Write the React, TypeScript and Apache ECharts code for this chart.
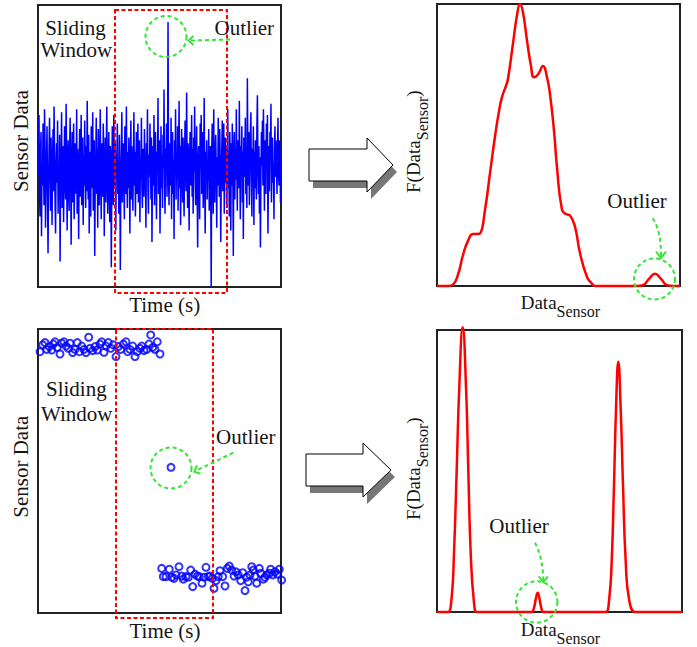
import React, { useEffect, useRef } from "react";
import * as echarts from "echarts";

// ---------- data ----------
// Top-left: raw sensor signal (arbitrary units, 0..100 scale)
const sensorSignal = [
  40, 52, 61, 33, 25, 47, 55, 18, 42, 36,
  58, 44, 29, 63, 50, 21, 38, 46, 57, 31,
  12, 35, 49, 60, 41, 27, 53, 39, 22, 45,
  56, 34, 64, 48, 30, 19, 43, 51, 37, 59,
  26, 42, 33, 54, 9, 40, 47, 62, 28, 36,
  50, 23, 44, 57, 38, 31, 65, 46, 20, 41,
  52, 35, 27, 48, 60, 43, 15, 39, 55, 30,
  46, 58, 24, 37, 51, 42, 33, 63, 26, 49,
  38, 17, 45, 56, 32, 44, 61, 29, 40, 53,
  22, 47, 36, 59, 41, 28, 50, 34, 66, 43,
  31, 54, 19, 39, 48, 25, 57, 42, 35, 62,
  27, 46, 52, 11, 38, 44, 60, 33, 49, 21,
  56, 40, 29, 47, 63, 36, 24, 51, 43, 32,
  58, 45, 18, 39, 53, 30, 48, 64, 37, 26,
  42, 55, 34, 23, 50, 46, 7, 38, 57, 41,
  29, 61, 44, 35, 52, 20, 47, 39, 58, 33,
  45, 26, 54, 41, 6, 36, 49, 62, 30, 43,
  51, 38, 24, 57, 46, 33, 64, 40, 28, 48,
  35, 53, 42, 19, 45, 59, 31, 50, 37, 27,
  44, 62, 36, 48, 25, 40, 55, 33, 47, 58,
  30, 41, 52, 23, 46, 38, 60, 35, 28, 49,
  43, 32, 56, 45, 37, 21, 51, 40, 63, 34,
  26, 47, 39, 58, 44, 31, 53, 16, 42, 50,
  36, 61, 29, 46, 55, 38, 24, 48, 41, 67,
  33, 45, 52, 19, 40, 57, 35, 47, 28, 54,
  42, 70, 37, 26, 49, 44, 58, 32, 46, 94,
  39, 29, 51, 43, 36, 60, 24, 47, 55, 33,
  45, 17, 52, 40, 63, 31, 48, 38, 57, 27,
  44, 66, 35, 50, 22, 41, 56, 46, 30, 53,
  37, 25, 48, 59, 42, 34, 69, 45, 28, 51,
  39, 20, 47, 55, 36, 43, 61, 32, 49, 26,
  53, 41, 64, 38, 29, 46, 57, 35, 14, 44,
  50, 37, 24, 58, 42, 61, 33, 47, 55, 28,
  43, 67, 36, 19, 48, 40, 52, 31, 45, 38,
  56, 27, 44, 50, 35, 0, 49, 58, 41, 26,
  63, 38, 30, 47, 54, 41, 21, 46, 36, 60,
  50, 32, 56, 44, 16, 39, 48, 59, 34, 45,
  58, 26, 41, 53, 37, 49, 28, 44, 63, 35,
  47, 25, 55, 40, 20, 51, 36, 58, 43, 11,
  46, 55, 31, 49, 38, 63, 42, 27, 52, 45,
  35, 66, 41, 24, 50, 44, 57, 30, 48, 17,
  53, 39, 46, 60, 33, 42, 28, 74, 47, 36,
  55, 29, 44, 53, 62, 38, 25, 49, 41, 57,
  22, 48, 35, 52, 40, 31, 57, 68, 44, 33,
  50, 26, 46, 14, 39, 55, 43, 59, 36, 63,
  47, 27, 52, 41, 33, 58, 45, 61, 19, 38,
  50, 34, 55, 46, 65, 30, 42, 53, 37, 44,
  24, 49, 57, 39, 52, 45, 33, 47, 60, 41,
  36, 52, 47, 30, 44,
];

// Top-right: estimated density of the top signal
const densityTopX = [
  0, 11, 16, 21, 26, 31, 36, 40, 43, 48, 53, 58, 62, 65, 69, 71, 76, 80, 83, 86,
  90, 94, 97, 101, 106, 110, 113, 117, 120, 125, 129, 133, 138, 143, 150, 155,
  158, 200, 206, 212, 218, 224, 230, 236, 243,
];
const densityTopY = [
  0, 0, 0.5, 4, 11, 16, 18.4, 18.4, 18.6, 27, 40, 53, 62, 67, 71, 73.5, 86, 96, 100, 97,
  87, 78, 74, 75, 78, 74, 68, 55, 42, 27, 25.5, 25, 21, 11.7, 3.2, 0.8,
  0, 0, 0.3, 2.5, 4.3, 2.5, 0.3, 0, 0,
];

// Bottom-left: step-like sensor readings
const upperTimes = [
  2, 4.7, 7, 8.7, 11.3, 13.7, 15.3, 17, 19.3, 22, 23.7, 26, 28, 30.3, 32, 34.7, 37,
  39.3, 41.3, 43.7, 46, 48, 50.7, 52, 54.7, 57, 59.3, 62, 63.7, 66, 68, 70.3, 72.7,
  75.3, 78, 80.3, 82.7, 85.3, 88, 89.7, 92, 94.7, 97, 99.3, 102, 103.7, 106, 108.7,
  111, 112.7, 114.7, 117, 119.3, 122,
];
const upperValues = [
  92.0, 94.4, 95.2, 92.8, 93.8, 92.6, 94.7, 95.5, 93.5, 91.2, 95.0, 95.5, 94.0, 93.2,
  95.0, 91.7, 92.8, 95.2, 92.0, 94.0, 92.8, 91.7, 97.1, 93.2, 92.4, 93.8, 92.6, 94.7,
  95.5, 91.8, 94.0, 95.2, 93.2, 94.4, 90.3, 93.8, 92.8, 94.7, 95.5, 92.0, 92.8, 94.0,
  90.3, 92.0, 93.2, 94.0, 92.4, 92.8, 94.7, 97.9, 93.5, 92.8, 95.5, 91.2,
];
const lowerTimes = [
  123.7, 125.3, 128, 131.3, 133.7, 136, 138, 141, 143.7, 145.3, 148, 150.3, 152.7,
  154.7, 157, 159.3, 161.3, 164, 166, 168, 170.3, 172, 174.3, 176, 178, 180.3, 182,
  184.7, 187, 189.3, 191.3, 193.7, 196, 198, 200.3, 202.7, 204.7, 207, 208.7, 210.3,
  212, 213.7, 215.3, 217, 218.7, 221.3, 222.7, 225.3, 227, 228.7, 231.3, 232.7,
  234.7, 237, 239.3, 241.3, 243.7,
];
const lowerValues = [
  15.7, 12.8, 12.8, 15.4, 12.6, 12.2, 13.4, 16.3, 13.0, 11.9, 12.8, 12.6, 15.1, 9.3,
  13.7, 13.0, 12.8, 10.5, 12.6, 16.1, 12.8, 13.0, 12.2, 8.7, 11.4, 12.8, 14.9, 12.8,
  9.5, 15.7, 16.5, 15.1, 13.0, 14.5, 13.4, 11.4, 14.2, 7.9, 12.6, 11.0, 13.4, 16.3,
  15.1, 13.0, 10.5, 15.7, 14.0, 11.9, 12.6, 13.4, 14.0, 15.4, 13.4, 14.5, 13.7, 15.4,
  11.6,
];
const outlierTimes = [133];
const outlierValues = [51.3];

// Bottom-right: estimated density of the bottom signal
const densityBottomX = [
  0, 9, 11.3, 14.7, 17, 19.7, 22.3, 25.7, 29, 31.3, 33.7, 37, 39.7, 42, 92, 94.7, 97,
  99, 100.7, 102.3, 104.3, 106.3, 109, 166, 169, 172.3, 174.7, 177, 179, 181.3,
  183.7, 186, 188.7, 192.3, 198, 201, 245,
];
const densityBottomY = [
  0, 0, 0, 5.4, 20.9, 50.4, 79.9, 101, 79.9, 50.4, 20.9, 3.2, 0, 0, 0, 0, 1.5,
  5, 6.8, 5, 1.5, 0, 0, 0, 0, 5, 18, 45, 72, 88.7,
  72, 45, 18, 4, 0, 0, 0,
];

// texts
const labelSensorData = "Sensor Data";
const labelTime = "Time (s)";
const labelOutlier = "Outlier";
const labelSliding = ["Sliding", "Window"];
const labelData = "Data";
const labelSub = "Sensor";
const labelF = "F(Data";

const FONT = "'Liberation Serif', 'Times New Roman', serif";
const TXT = "#151515";
const GREEN = "#33e633";
const RED = "#ff0000";
const BLUE = "#0000ff";

function measure(t: string, size: number): number {
  const ctx = document.createElement("canvas").getContext("2d");
  if (!ctx) return t.length * size * 0.5;
  ctx.font = `${size}px 'Liberation Serif'`;
  return ctx.measureText(t).width;
}

function text(t: string, x: number, y: number, size: number, align = "center", extra: any = {}) {
  return {
    type: "text",
    x,
    y,
    z: 120,
    ...extra,
    style: {
      text: t,
      fontSize: size,
      fontFamily: FONT,
      fill: TXT,
      textAlign: align,
      textVerticalAlign: "middle",
      align,
      verticalAlign: "middle",
    },
  };
}

function subscriptLabel(x: number, baseline: number) {
  const w = measure(labelData, 19);
  return [
    text(labelData, x, baseline - 6.5, 19, "left"),
    text(labelSub, x + w, baseline + 7.7 - 5.4, 16, "left"),
  ];
}

function fLabel(baselineX: number, startY: number) {
  const w1 = measure(labelF, 19);
  const w2 = measure(labelSub, 16);
  return {
    type: "group",
    x: baselineX,
    y: startY,
    rotation: Math.PI / 2,
    z: 120,
    children: [
      text(labelF, 0, -6.5, 19, "left"),
      text(labelSub, w1, 8 - 5.4, 16, "left"),
      text(")", w1 + w2, -6.5, 19, "left"),
    ],
  };
}

function blockArrow(x0: number, yTop: number, yBot: number, xHead: number, headTop: number, headBot: number, tipX: number) {
  const tipY = (headTop + headBot) / 2;
  const pts = [
    [x0, yTop], [xHead, yTop], [xHead, headTop], [tipX, tipY],
    [xHead, headBot], [xHead, yBot], [x0, yBot],
  ];
  const shadow = pts.map(([a, b]) => [a + 4, b + 7]);
  return [
    { type: "polygon", z: 110, shape: { points: shadow }, style: { fill: "#777777", stroke: "none" } },
    { type: "polygon", z: 111, shape: { points: pts }, style: { fill: "#ffffff", stroke: "#000000", lineWidth: 1 } },
  ];
}

const dashed = (color: string) => ({ fill: "none", stroke: color, lineWidth: 2, lineDash: [4, 3] });

export default function App() {
  const ref = useRef<HTMLDivElement>(null);
  useEffect(() => {
    if (!ref.current) return;
    const chart = echarts.init(ref.current, undefined, { renderer: "svg" });
    const grids = [
      { left: 38, top: 5, width: 243, height: 282 },
      { left: 437, top: 4, width: 243, height: 282 },
      { left: 38, top: 329, width: 243, height: 284 },
      { left: 437, top: 330, width: 245, height: 282 },
    ].map((g) => ({ ...g, show: true, borderColor: "#222222", borderWidth: 2, backgroundColor: "transparent" }));
    const hidden = { axisLine: { show: false }, axisTick: { show: false }, axisLabel: { show: false }, splitLine: { show: false } };
    const xMax = [sensorSignal.length - 1, 243, 243, 245];
    const xAxis = xMax.map((m, i) => ({ type: "value", gridIndex: i, min: 0, max: m, ...hidden }));
    const yAxis = [0, 1, 2, 3].map((i) => ({ type: "value", gridIndex: i, min: 0, max: 100, ...hidden }));

    const scatterStyle = { color: "transparent", borderColor: BLUE, borderWidth: 2 };
    const scatterBase = { type: "scatter", xAxisIndex: 2, yAxisIndex: 2, symbol: "circle", symbolSize: 7, clip: false };

    const graphics: any[] = [
      // sliding windows
      { type: "rect", z: 100, shape: { x: 115, y: 10, width: 112, height: 283 }, style: { fill: "none", stroke: RED, lineWidth: 2, lineDash: [4, 2.5] } },
      { type: "rect", z: 100, shape: { x: 116, y: 329, width: 97, height: 289 }, style: { fill: "none", stroke: RED, lineWidth: 2, lineDash: [4, 2.5] } },
      // outlier circles
      { type: "circle", z: 101, shape: { cx: 166, cy: 36.5, r: 20.5 }, style: dashed(GREEN) },
      { type: "circle", z: 101, shape: { cx: 654.5, cy: 279, r: 20.5 }, style: dashed(GREEN) },
      { type: "circle", z: 101, shape: { cx: 171, cy: 468, r: 20.5 }, style: dashed(GREEN) },
      { type: "circle", z: 101, shape: { cx: 536.7, cy: 602, r: 20.7 }, style: dashed(GREEN) },
      // green arrows
      { type: "line", z: 101, shape: { x1: 230, y1: 39.5, x2: 190, y2: 40.5 }, style: dashed(GREEN) },
      { type: "polyline", z: 101, shape: { points: [[193.5, 36], [188.5, 40.5], [193.5, 45]] }, style: { stroke: GREEN, lineWidth: 2, fill: "none" } },
      { type: "line", z: 101, shape: { x1: 233.3, y1: 452.7, x2: 195.5, y2: 471 }, style: dashed(GREEN) },
      { type: "polyline", z: 101, shape: { points: [[197, 465.5], [194.3, 471.7], [200.5, 473.8]] }, style: { stroke: GREEN, lineWidth: 2, fill: "none" } },
      { type: "bezierCurve", z: 101, shape: { x1: 652.7, y1: 218.3, cpx1: 659, cpy1: 228, cpx2: 661, cpy2: 240, x2: 661, y2: 256 }, style: dashed(GREEN) },
      { type: "polyline", z: 101, shape: { points: [[656, 251.5], [661, 258], [666, 251.5]] }, style: { stroke: GREEN, lineWidth: 2, fill: "none" } },
      { type: "bezierCurve", z: 101, shape: { x1: 535, y1: 542.7, cpx1: 540, cpy1: 552, cpx2: 543, cpy2: 565, x2: 543.3, y2: 580 }, style: dashed(GREEN) },
      { type: "polyline", z: 101, shape: { points: [[538.8, 576.3], [543.3, 582], [548, 576.3]] }, style: { stroke: GREEN, lineWidth: 2, fill: "none" } },
      // block arrows
      ...blockArrow(309, 149, 181, 367, 138, 192, 393),
      ...blockArrow(306, 454, 486, 363, 443, 497, 391),
      // texts: top-left
      text(labelSliding[0], 75.5, 28, 21),
      text(labelSliding[1], 76.3, 50.2, 21),
      text(labelOutlier, 244.3, 28, 21),
      text(labelTime, 164.7, 305.2, 21),
      text(labelSensorData, 21.2, 141, 21, "center", { rotation: Math.PI / 2 }),
      // bottom-left
      text(labelSliding[0], 76.3, 389, 21),
      text(labelSliding[1], 76.7, 413.6, 21),
      text(labelOutlier, 245.8, 437, 21),
      text(labelTime, 165, 630.6, 21),
      text(labelSensorData, 21.2, 466.7, 21, "center", { rotation: Math.PI / 2 }),
      // right panels
      text(labelOutlier, 637, 201.2, 21),
      text(labelOutlier, 519, 525.6, 21),
      ...subscriptLabel(520.7, 309),
      ...subscriptLabel(520.7, 636),
      fLabel(420, 193),
      fLabel(420, 520),
    ];

    chart.setOption({
      animation: false,
      backgroundColor: "#ffffff",
      grid: grids,
      xAxis,
      yAxis,
      series: [
        {
          type: "line", xAxisIndex: 0, yAxisIndex: 0, showSymbol: false, symbol: "none",
          data: sensorSignal.map((v, i) => [i, v]),
          lineStyle: { color: BLUE, width: 1.5 }, itemStyle: { color: BLUE },
        },
        {
          type: "line", xAxisIndex: 1, yAxisIndex: 1, showSymbol: false, symbol: "none", smooth: 0.5, clip: false,
          data: densityTopX.map((x, i) => [x, densityTopY[i]]),
          lineStyle: { color: RED, width: 2.5 }, itemStyle: { color: RED }, z: 5,
        },
        { ...scatterBase, data: upperTimes.map((x, i) => [x, upperValues[i]]), itemStyle: scatterStyle },
        { ...scatterBase, data: lowerTimes.map((x, i) => [x, lowerValues[i]]), itemStyle: scatterStyle },
        { ...scatterBase, data: outlierTimes.map((x, i) => [x, outlierValues[i]]), itemStyle: scatterStyle },
        {
          type: "line", xAxisIndex: 3, yAxisIndex: 3, showSymbol: false, symbol: "none", smooth: 0.5, clip: false,
          data: densityBottomX.map((x, i) => [x, densityBottomY[i]]),
          lineStyle: { color: RED, width: 2.5 }, itemStyle: { color: RED }, z: 5,
        },
      ],
      graphic: { elements: graphics },
    });
    return () => chart.dispose();
  }, []);
  return (
    <div
      ref={ref}
      style={{ position: "absolute", left: 0, top: 0, width: 697, height: 647, background: "#fff" }}
    />
  );
}
